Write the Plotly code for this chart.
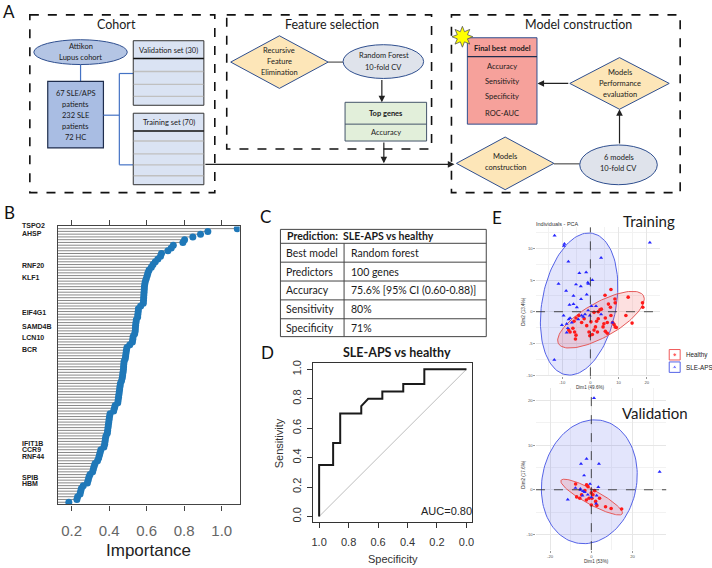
import math
import plotly.graph_objects as go

W, H = 712, 568

# ---------------- panel B: variable importance (rows listed top -> bottom)
importance = [
    1.083, 0.926, 0.887, 0.846, 0.802, 0.793, 0.742, 0.731, 0.713, 0.679,
    0.674, 0.660, 0.646, 0.634, 0.625, 0.613, 0.607, 0.603, 0.598, 0.593,
    0.590, 0.588, 0.587, 0.586, 0.585, 0.584, 0.583, 0.582, 0.568, 0.556,
    0.555, 0.553, 0.552, 0.545, 0.543, 0.541, 0.540, 0.539, 0.536, 0.528,
    0.526, 0.524, 0.510, 0.495, 0.492, 0.490, 0.488, 0.486, 0.480, 0.478,
    0.477, 0.476, 0.474, 0.472, 0.470, 0.466, 0.460, 0.458, 0.456, 0.454,
    0.452, 0.450, 0.448, 0.446, 0.432, 0.428, 0.424, 0.405, 0.402, 0.400,
    0.398, 0.396, 0.394, 0.392, 0.390, 0.383, 0.380, 0.378, 0.376, 0.372,
    0.356, 0.352, 0.348, 0.344, 0.338, 0.325, 0.320, 0.316, 0.312, 0.298,
    0.292, 0.288, 0.284, 0.262, 0.252, 0.248, 0.245, 0.232, 0.228, 0.185,
]
importance_ticks = [0.2, 0.4, 0.6, 0.8, 1.0]
importance_ticktext = ["0.2", "0.4", "0.6", "0.8", "1.0"]
gene_labels = ["TSPO2", "AHSP", "RNF20", "KLF1", "EIF4G1", "SAMD4B", "LCN10",
               "BCR", "IFIT1B", "CCR9", "RNF44", "SPIB", "HBM"]
gene_rows = [-1.2, 1.9, 13.2, 17.7, 30.4, 35.3, 39.3, 43.6, 77.8, 80.1, 82.6, 89.9, 92.3]

# ---------------- panel C: summary table
table_title = "Prediction:  SLE-APS vs healthy"
table_keys = ["Best model", "Predictors", "Accuracy", "Sensitivity", "Specificity"]
table_values = ["Random forest", "100 genes", "75.6% [95% CI (0.60-0.88)]", "80%", "71%"]

# ---------------- panel D: ROC curve
roc_specificity = [1.0, 1.0, 0.905, 0.905, 0.857, 0.857, 0.714, 0.714, 0.667,
                   0.571, 0.571, 0.429, 0.429, 0.286, 0.286, 0.0]
roc_sensitivity = [0.0, 0.35, 0.35, 0.5, 0.5, 0.7, 0.7, 0.75, 0.8,
                   0.8, 0.85, 0.85, 0.9, 0.9, 1.0, 1.0]
roc_ticks = [0.0, 0.2, 0.4, 0.6, 0.8, 1.0]
roc_ticktext = ["0.0", "0.2", "0.4", "0.6", "0.8", "1.0"]
auc_text = "AUC=0.80"

# ---------------- panel E: PCA individuals
train_sle_x = [-12.7, -9.2, -9.4, 21.1, -7.8, 3.8, -3.9, -1.5, 0.7, -0.9, -0.7, -11.3,
               -5.1, -8.6, -3.4, -6.0, -1.3, -7.4, -6.0, -3.3, -4.8, -9.5, -7.2, -7.7,
               -10.1, -8.4, -8.0, -8.4, -3.1, -2.5, -1.9, -4.3, -0.8, -0.2, -12.8, 2.0,
               3.8, 7.8, -6.6, 0.4]
train_sle_y = [12.0, 10.7, 10.4, 10.9, 7.9, 8.5, 6.1, 6.2, 5.0, 4.6, 4.4, 4.4,
               4.3, 3.3, 4.0, 2.5, 2.7, 1.1, 1.2, 2.0, 0.7, -0.6, -1.0, -1.2,
               -2.1, -1.9, -2.6, -3.3, -0.6, -0.8, -0.4, -1.2, 0.2, -0.6, -7.6, 0.9,
               -0.4, -1.7, -1.7, 0.9]
train_healthy_x = [7.3, 5.2, 8.7, 8.8, 13.4, 18.5, 18.6, 12.6, 14.8, 6.4, 7.1, 3.4,
                   2.8, 7.3, 7.9, 8.4, 8.8, 9.2, 5.3, 6.0, 4.8, 4.5, 5.3, 6.0,
                   1.8, 1.3, 2.5, -0.5, 0.7, -0.2, -4.1, -5.1, -5.8, -6.2, -5.6, -5.1,
                   -5.3, -3.1, -2.2, -1.3, 2.2, 2.8, 1.3, -7.7, -7.2, 3.9, 0.2]
train_healthy_y = [3.5, 2.6, 2.0, 1.4, 2.3, 1.4, 0.7, -0.6, -1.8, 1.2, 0.7, 0.3,
                   0.0, -0.6, -1.7, -2.0, -2.4, -2.5, -1.0, -1.7, -1.9, -2.4, -3.1, -3.4,
                   -2.4, -2.9, -3.2, -3.2, -3.6, -3.8, -0.6, -1.0, -1.5, -2.6, -3.2, -3.7,
                   -4.3, -1.7, -1.1, -2.2, -1.5, -1.1, -0.1, -2.9, -3.2, 0.4, -1.6]
valid_sle_x = [1.3, 33.1, -2.3, -5.0, 3.7, -3.5, -11.4, 3.4, -0.6, -7.7, -5.3, -5.3,
               -4.3, -1.7, 2.6, 2.3, -3.2, -4.0, 0.0]
valid_sle_y = [20.5, 4.0, 6.9, 5.8, 5.8, 3.2, -2.2, 0.6, 1.3, 0.4, 0.2, 0.0,
               -1.3, -1.1, -1.3, -3.1, -0.5, -0.3, -1.7]
valid_healthy_x = [-7.6, -2.3, -7.1, -4.7, -3.1, 0.0, 0.8, 0.3, -1.1, 0.0, 2.7, 4.0,
                   6.9, 9.6, 14.7, 1.6, -5.6, -2.4, -1.6, 2.1]
valid_healthy_y = [1.3, 1.1, -1.6, -1.1, -0.2, -0.7, -1.1, -1.9, -1.9, -3.4, -3.5, -1.9,
                   -3.8, -4.2, -4.3, -0.2, -1.9, -2.3, 0.7, -2.6]
# confidence ellipses: centre, and two conjugate semi-axis vectors (data units)
ell_train_healthy = [(3.76, -1.26), (15.06, 3.79), (3.0, -2.38)]
ell_train_sle = [(-4.0, 1.21), (4.71, 11.16), (12.9, -1.09)]
ell_valid_healthy = [(0.16, -1.64), (14.84, -3.73), (-1.69, -1.44)]
ell_valid_sle = [(-0.97, 1.79), (6.45, 13.66), (22.3, -2.29)]
train_xticks = [-10, 0, 10, 20]
train_yticks = [-10, -5, 0, 5, 10]
valid_xticks = [-20, 0, 20]
valid_yticks = [-10, 0, 10, 20]
legend_names = ["Healthy", "SLE-APS"]

RED = "#ff1a1a"
BLUE = "#2424ff"
OFFICE = "Lato, Carlito, sans-serif"
ARIAL = "Liberation Sans, Arial, sans-serif"

# panel B plot box in pixels and its row range
B_TOP, B_BOTTOM = 225, 505
B_ROWS = (-0.8, 99.8)


def dom_x(a, b):
    return [a / W, b / W]


def dom_y(top, bottom):
    return [1 - bottom / H, 1 - top / H]


def ellipse(params, n=120):
    (cx, cy), (ux, uy), (vx, vy) = params
    xs, ys = [], []
    for k in range(n + 1):
        t = 2 * math.pi * k / n
        xs.append(cx + ux * math.cos(t) + vx * math.sin(t))
        ys.append(cy + uy * math.cos(t) + vy * math.sin(t))
    return xs, ys


fig = go.Figure()

# ---- B
line_x, line_y = [], []
for i, v in enumerate(importance):
    line_x += [0, v, None]
    line_y += [i, i, None]
fig.add_trace(go.Scatter(x=line_x, y=line_y, mode="lines", xaxis="x", yaxis="y",
                         line=dict(color="#7a7a7a", width=0.9), hoverinfo="skip"))
fig.add_trace(go.Scatter(x=importance, y=list(range(len(importance))), mode="markers",
                         xaxis="x", yaxis="y",
                         marker=dict(color="#1f78b8", size=7)))

# ---- D
fig.add_trace(go.Scatter(x=roc_specificity, y=roc_sensitivity, mode="lines",
                         xaxis="x2", yaxis="y2", line=dict(color="#1a1a1a", width=2)))

# ---- E
for params, col, ax in [(ell_train_sle, BLUE, "3"), (ell_train_healthy, RED, "3"),
                        (ell_valid_sle, BLUE, "4"), (ell_valid_healthy, RED, "4")]:
    ex, ey = ellipse(params)
    fill = "rgba(70,80,235,0.15)" if col == BLUE else "rgba(240,60,60,0.16)"
    lc = "#5563e6" if col == BLUE else "#e65a5a"
    fig.add_trace(go.Scatter(x=ex, y=ey, mode="lines", fill="toself", fillcolor=fill,
                             line=dict(color=lc, width=1), xaxis="x" + ax, yaxis="y" + ax,
                             hoverinfo="skip"))
for xs, ys, col, sym, ax in [
    (train_healthy_x, train_healthy_y, RED, "circle", "3"),
    (train_sle_x, train_sle_y, BLUE, "triangle-up", "3"),
    (valid_healthy_x, valid_healthy_y, RED, "circle", "4"),
    (valid_sle_x, valid_sle_y, BLUE, "triangle-up", "4"),
]:
    fig.add_trace(go.Scatter(x=xs, y=ys, mode="markers", xaxis="x" + ax, yaxis="y" + ax,
                             marker=dict(color=col, size=3.6, symbol=sym)))

# legend glyphs on the overlay (pixel) axis
fig.add_trace(go.Scatter(x=[676.5, 676.5], y=[354.2, 366.8], mode="markers",
                         xaxis="x5", yaxis="y5",
                         marker=dict(color=[RED, BLUE], size=[3.6, 4.2],
                                     symbol=["circle", "triangle-up"])))

shapes = []
ann = []


def px_rect(x0, y0, x1, y1, fill="rgba(0,0,0,0)", line="#1f2d4d", width=1.0, dash="solid"):
    shapes.append(dict(type="rect", xref="x5", yref="y5", x0=x0, y0=y0, x1=x1, y1=y1,
                       fillcolor=fill, line=dict(color=line, width=width, dash=dash),
                       layer="below"))


def px_line(x0, y0, x1, y1, color="#333", width=1.0):
    shapes.append(dict(type="line", xref="x5", yref="y5", x0=x0, y0=y0, x1=x1, y1=y1,
                       line=dict(color=color, width=width), layer="below"))


def px_path(path, fill, line="#2f4f8f", width=1.0):
    shapes.append(dict(type="path", xref="x5", yref="y5", path=path, fillcolor=fill,
                       line=dict(color=line, width=width), layer="below"))


def px_oval(x0, y0, x1, y1, fill, line="#2f4f8f"):
    shapes.append(dict(type="circle", xref="x5", yref="y5", x0=x0, y0=y0, x1=x1, y1=y1,
                       fillcolor=fill, line=dict(color=line, width=1.0), layer="below"))


def px_text(x, y, s, size=7.5, color="#1a1a1a", bold=False, anchor="center",
            family=OFFICE, angle=0):
    if bold:
        s = "<b>" + s + "</b>"
    ann.append(dict(x=x / W, y=1 - y / H, xref="paper", yref="paper", text=s,
                    showarrow=False, xanchor=anchor, yanchor="middle", textangle=angle,
                    font=dict(size=size, color=color, family=family)))


def px_arrow(x0, y0, x1, y1):
    ann.append(dict(x=x1, y=y1, ax=x0, ay=y0, xref="x5", yref="y5", axref="x5",
                    ayref="y5", text="", showarrow=True, arrowhead=2, arrowsize=1.1,
                    arrowwidth=1.2, arrowcolor="#222", standoff=0))


# ================= panel A (flow chart) =================
for box in [(28, 12, 214, 191), (226, 12, 432, 147), (452, 12, 682, 191)]:
    px_rect(*box, line="#111", width=1.6, dash="dash")
px_text(115, 22, "Cohort", size=12.5)
px_text(332, 22, "Feature selection", size=12.5)
px_text(580, 22, "Model construction", size=12.5)

# cohort
BLUE_LINE = "#4472c4"
px_line(79, 62, 79, 79, BLUE_LINE, 1.2)
px_oval(32, 37, 126, 62, "#b4c5e4")
px_text(79, 43.5, "Attikon")
px_text(79, 54.5, "Lupus cohort")
px_rect(46, 79, 102, 146, fill="#a9bde3", line="#1f2d4d", width=1.2)
for k, s in enumerate(["67 SLE/APS", "patients", "232 SLE", "patients", "72 HC"]):
    px_text(74, 91 + 11 * k, s)
px_line(102, 113, 118, 113, BLUE_LINE, 1.2)
px_line(118, 71, 118, 163, BLUE_LINE, 1.2)
px_line(118, 71, 132, 71, BLUE_LINE, 1.2)
px_line(118, 163, 132, 163, BLUE_LINE, 1.2)
for (top, hdr, bottom, rows, label) in [
    (38, 56, 103, [69, 82, 94], "Validation set (30)"),
    (111, 129, 183, [139, 152, 163, 174], "Training set (70)"),
]:
    px_rect(132, top, 203, bottom, fill="#dae3f3", line="#333", width=1.0)
    for r in rows:
        px_line(132.5, r, 202.5, r, "#c0c0c0", 1.3)
    px_line(132, hdr, 203, hdr, "#111", 1.5)
    px_text(167.5, (top + hdr) / 2 + 0.5, label)

# feature selection
px_path("M230,59.5 L279,33 L328,59.5 L279,86 Z", "#fde6b8")
for k, s in enumerate(["Recursive", "Feature", "Elimination"]):
    px_text(279, 47.5 + 11 * k, s)
px_line(328, 59.5, 343, 59.5, "#333", 1.0)
px_oval(343, 42, 424, 76, "#dfe3eb")
px_text(384, 53, "Random Forest")
px_text(384, 64.5, "10-fold CV")
px_arrow(382, 76, 382, 100)
px_rect(345, 100, 427, 139, fill="#e2efda", line="#44546a", width=1.0)
px_line(345, 122, 427, 122, "#44546a", 1.0)
px_text(386, 111, "Top genes", bold=True)
px_text(386, 130.5, "Accuracy")
px_arrow(384, 139, 384, 161.5)

# main line training set -> model construction
px_arrow(203, 162.5, 455, 162.5)

# model construction
px_rect(468, 35, 538, 122, fill="#f6a19b", line="#2f4f8f", width=1.0)
px_line(468, 54, 538, 54, "#1f2d4d", 1.2)
px_text(503, 45.5, "Final best  model", bold=True)
for yy, s in zip([63.5, 79.5, 94.5, 111], ["Accuracy", "Sensitivity", "Specificity", "ROC-AUC"]):
    px_text(503, yy, s)
star = []
for k in range(16):
    r = 10.5 if k % 2 == 0 else 5.5
    a = -math.pi / 2 + k * math.pi / 8
    star.append("%.1f,%.1f" % (463 + r * math.cos(a), 34 + r * math.sin(a)))
px_path("M" + " L".join(star) + " Z", "#ffff00", line="#555", width=0.8)
px_path("M571,81 L621,55 L671,81 L621,107 Z", "#fde6b8")
for k, s in enumerate(["Models", "Performance", "evaluation"]):
    px_text(621, 70 + 11 * k, s)
px_arrow(571, 81, 538.5, 81)
px_arrow(621, 143, 621, 107)
px_path("M457,161.5 L506,135 L555,161.5 L506,188 Z", "#fde6b8")
px_text(506, 154.5, "Models")
px_text(506, 165.5, "construction")
px_line(555, 162, 581, 162, "#333", 1.0)
px_oval(581, 143, 659, 183, "#dfe3eb")
px_text(620, 156, "6 models")
px_text(620, 167, "10-fold CV")

# ================= panel labels =================
for s, x, y in [("A", 7, 9), ("B", 7.5, 211), ("C", 265, 215), ("D", 267, 352), ("E", 498, 216)]:
    px_text(x, y, s, size=17, color="#111")

# ================= panel B annotations =================
for g, r in zip(gene_labels, gene_rows):
    py = B_TOP + (r - B_ROWS[0]) / (B_ROWS[1] - B_ROWS[0]) * (B_BOTTOM - B_TOP)
    px_text(18, py, "<b>" + g + "</b>", size=7, color="#222", anchor="left", family=ARIAL)
px_text(147.5, 551, "Importance", size=17, color="#222", family=ARIAL)

# ================= panel C table =================
row_lines = [228, 242, 261, 280, 299, 318, 336]
px_rect(280, row_lines[0], 487, row_lines[-1], line="#444", width=1.0)
for yy in row_lines[1:-1]:
    px_line(280, yy, 487, yy, "#444", 1.0)
px_line(344, row_lines[1], 344, row_lines[-1], "#444", 1.0)
px_text(285, (row_lines[0] + row_lines[1]) / 2, table_title, size=10.5, bold=True, anchor="left")
for k, (key, val) in enumerate(zip(table_keys, table_values)):
    yy = (row_lines[k + 1] + row_lines[k + 2]) / 2
    px_text(284, yy, key, size=10.5, anchor="left")
    px_text(349, yy, val, size=10.5, anchor="left")

# ================= panel D text =================
px_text(397, 352, "SLE-APS vs healthy", size=12.5, bold=True)
px_text(447, 512, auc_text, size=11, family=ARIAL, color="#222")
px_text(393, 560, "Specificity", size=11, family=ARIAL, color="#333")
px_text(278, 443, "Sensitivity", size=11, family=ARIAL, color="#333", angle=-90)
shapes.append(dict(type="line", xref="x2", yref="y2", x0=1, y0=0, x1=0, y1=1,
                   line=dict(color="#bdbdbd", width=1), layer="below"))

# ================= panel E text =================
px_text(535, 223, "Individuals - PCA", size=5.5, anchor="left", family=ARIAL, color="#333")
px_text(651, 220, "Training", size=15)
px_text(657, 413, "Validation", size=15)
px_text(592, 387, "Dim1 (49.6%)", size=4.6, family=ARIAL, color="#333")
px_text(525, 311, "Dim2 (13.4%)", size=4.6, family=ARIAL, color="#333", angle=-90)
px_text(598, 562.5, "Dim1 (53%)", size=4.6, family=ARIAL, color="#333")
px_text(525, 475, "Dim2 (17.6%)", size=4.6, family=ARIAL, color="#333", angle=-90)
for ax in ["3", "4"]:
    shapes.append(dict(type="line", xref="x" + ax, yref="y%s domain" % ax, x0=0, x1=0,
                       y0=0, y1=1, line=dict(color="#222", width=0.8, dash="dash")))
    shapes.append(dict(type="line", xref="x%s domain" % ax, yref="y" + ax, x0=0, x1=1,
                       y0=0, y1=0, line=dict(color="#222", width=0.8, dash="dash")))
# legend boxes
for (y0, y1), col, name in zip([(349, 359.5), (361.5, 372)], ["#f05a5a", "#5563e6"], legend_names):
    px_rect(671, y0, 682, y1, fill="white", line=col, width=1.0)
    px_text(686, (y0 + y1) / 2, name, size=6.3, anchor="left", family=ARIAL, color="#222")


def e_axis(domain, rng, ticks, minor, anchor):
    return dict(domain=domain, range=rng, anchor=anchor, tickmode="array", tickvals=ticks,
                ticktext=[str(t) for t in ticks], showgrid=True, gridcolor="#e6e6e6",
                gridwidth=0.8, zeroline=False, showline=False, ticks="outside",
                ticklen=1.5, tickcolor="#999", ticklabelstandoff=0,
                tickfont=dict(size=4.2, color="#555", family=ARIAL),
                minor=dict(tickmode="array", tickvals=minor, showgrid=True,
                           gridcolor="#f2f2f2", gridwidth=0.6, ticks=""))


fig.update_layout(
    width=W, height=H, margin=dict(l=0, r=0, t=0, b=0),
    paper_bgcolor="white", plot_bgcolor="rgba(0,0,0,0)", showlegend=False,
    xaxis=dict(domain=dom_x(56, 239), anchor="y", range=[0.1257, 1.0956], tickmode="array",
               tickvals=importance_ticks, ticktext=importance_ticktext,
               ticks="outside", ticklen=5, tickcolor="#444", showline=True,
               linecolor="#444", linewidth=1.2, mirror="ticks", showgrid=False,
               zeroline=False, ticklabelstandoff=7,
               tickfont=dict(size=15, color="#666", family=ARIAL)),
    yaxis=dict(domain=dom_y(B_TOP, B_BOTTOM), anchor="x", range=[B_ROWS[1], B_ROWS[0]],
               showticklabels=False, showline=True, linecolor="#444", linewidth=1.2,
               mirror=True, showgrid=False, zeroline=False, ticks=""),
    xaxis2=dict(domain=dom_x(313, 473), anchor="y2", range=[1.04, -0.04], tickmode="array",
                tickvals=roc_ticks, ticktext=roc_ticktext, ticks="outside", ticklen=5,
                tickcolor="#333", showline=True, linecolor="#333", mirror=True,
                showgrid=False, zeroline=False, ticklabelstandoff=4,
                tickfont=dict(size=11, color="#333", family=ARIAL)),
    yaxis2=dict(domain=dom_y(363, 523), anchor="x2", range=[-0.04, 1.04], tickmode="array",
                tickvals=roc_ticks, ticktext=roc_ticktext, ticks="outside", ticklen=5,
                tickcolor="#333", showline=True, linecolor="#333", mirror=True,
                showgrid=False, zeroline=False, tickangle=-90, ticklabelstandoff=2,
                tickfont=dict(size=11, color="#333", family=ARIAL)),
    xaxis3=e_axis(dom_x(537, 662), [-19.3, 24.8], train_xticks, [-15, -5, 5, 15], "y3"),
    yaxis3=e_axis(dom_y(226, 376), [-10.2, 13.3], train_yticks, [-7.5, -2.5, 2.5, 7.5, 12.5], "x3"),
    xaxis4=e_axis(dom_x(537, 668), [-26.8, 36.3], valid_xticks, [-10, 10, 30], "y4"),
    yaxis4=e_axis(dom_y(388, 551), [-13.5, 22.7], valid_yticks, [-5, 5, 15], "x4"),
    xaxis5=dict(domain=[0, 1], anchor="y5", range=[0, W], visible=False, fixedrange=True),
    yaxis5=dict(domain=[0, 1], anchor="x5", range=[H, 0], visible=False, fixedrange=True),
    shapes=shapes, annotations=ann,
)

# the page's default body margin would push the figure 8px right/down
fig.write_html("out.html", config={"displayModeBar": False},
               post_script="document.body.style.margin = '0';")
